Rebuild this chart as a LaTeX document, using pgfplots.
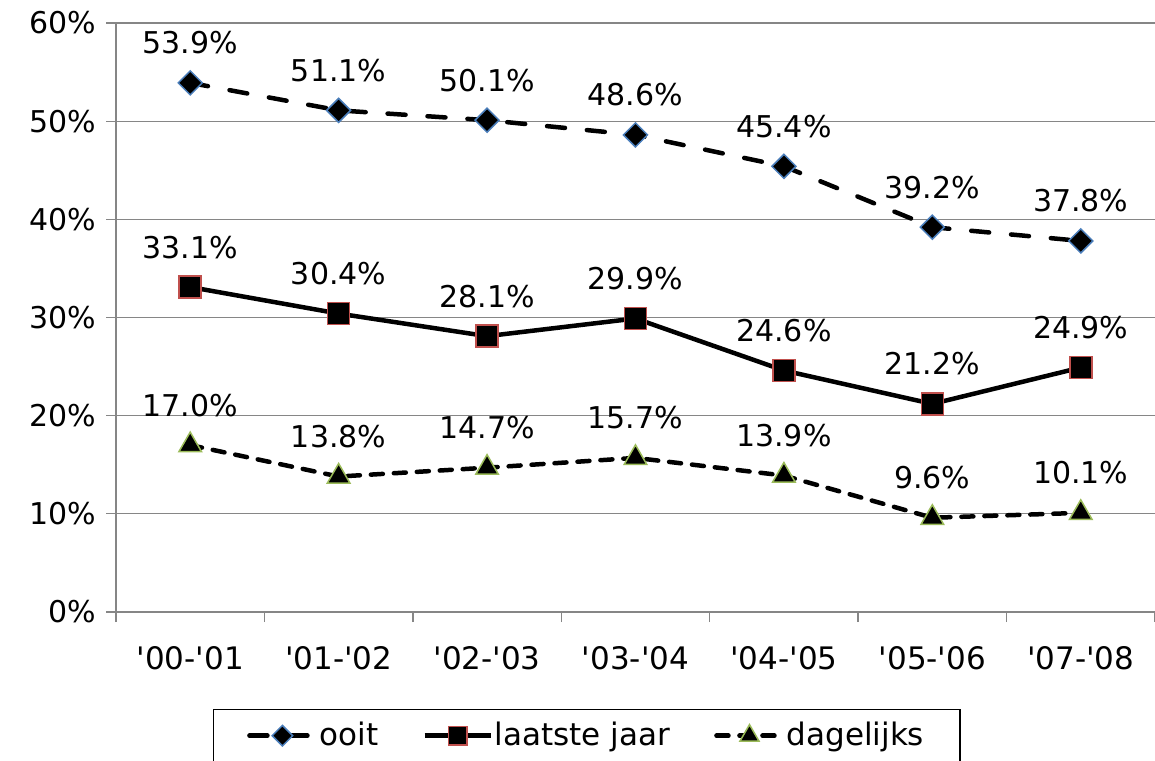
\documentclass[border=0pt]{standalone}
\usepackage{pgfplots}
\pgfplotsset{compat=1.18}
\usepackage{fontspec}
\setmainfont{DejaVu Sans}
\definecolor{gridgray}{HTML}{868686}
\definecolor{mblue}{HTML}{4A7EBB}
\definecolor{mred}{HTML}{C0504D}
\definecolor{mgreen}{HTML}{9BBB59}
\begin{document}
\fontsize{30}{36}\selectfont
\begin{tikzpicture}[font=\fontsize{30}{36}\selectfont]
\begin{axis}[
  at={(116pt,148pt)}, anchor=south west,
  scale only axis, width=1039pt, height=589pt,
  xmin=-0.5, xmax=6.5, ymin=0, ymax=60,
  axis x line*=bottom, axis y line*=left,
  axis line style={gridgray, line width=1.3pt},
  ytick={0,10,...,60},
  yticklabel={\pgfmathprintnumber{\tick}\%},
  xtick={-0.5,0.5,...,6.5},
  xticklabel={\relax},
  extra x ticks={0,1,2,3,4,5,6},
  extra x tick labels={{\textquotesingle00-\textquotesingle01},{\textquotesingle01-\textquotesingle02},{\textquotesingle02-\textquotesingle03},{\textquotesingle03-\textquotesingle04},{\textquotesingle04-\textquotesingle05},{\textquotesingle05-\textquotesingle06},{\textquotesingle07-\textquotesingle08}},
  extra x tick style={major tick length=0pt, tick label style={font=\fontsize{31}{37}\selectfont, yshift=-24pt}},
  ymajorgrids,
  major grid style={gridgray, line width=1.3pt},
  tick align=outside,
  major tick length=10pt,
  tick style={gridgray, line width=1.3pt},
  /pgf/number format/assume math mode=true,
  nodes near coords={\pgfmathprintnumber[fixed,zerofill,precision=1,assume math mode=true]{\pgfplotspointmeta}\%},
  point meta=y,
  every node near coord/.append style={anchor=base, yshift=29pt, inner sep=0pt, text=black},
  legend columns=3,
  legend style={at={(0.453,-0.1647)}, anchor=north, draw=black, line width=1.3pt,
    font=\fontsize{31}{37}\selectfont, inner xsep=34pt, inner ysep=10pt,
    /tikz/every even column/.append style={column sep=42pt}},
  legend image code/.code={\draw[#1, mark repeat=2, mark phase=2, every mark/.append style={scale=0.85}] plot coordinates {(0pt,0pt) (33pt,0pt) (66pt,0pt)};},
]
\addplot[black, line width=4.5pt, dash pattern=on 18pt off 22pt, line cap=round,
  mark=square*, mark size=8.5pt, mark options={rotate=45, solid, fill=black, draw=mblue, line width=1.5pt}]
  coordinates {(0,53.9) (1,51.1) (2,50.1) (3,48.6) (4,45.4) (5,39.2) (6,37.8)};
\addlegendentry{ooit}
\addplot[black, line width=4.5pt, solid,
  mark=square*, mark size=11pt, mark options={solid, fill=black, draw=mred, line width=1.5pt}]
  coordinates {(0,33.1) (1,30.4) (2,28.1) (3,29.9) (4,24.6) (5,21.2) (6,24.9)};
\addlegendentry{laatste jaar}
\addplot[black, line width=4.5pt, dash pattern=on 12pt off 11pt, line cap=round,
  mark=triangle*, mark size=13pt, mark options={solid, fill=black, draw=mgreen, line width=1.5pt}]
  coordinates {(0,17.0) (1,13.8) (2,14.7) (3,15.7) (4,13.9) (5,9.6) (6,10.1)};
\addlegendentry{dagelijks}
\end{axis}
\pgfresetboundingbox
\useasboundingbox (0,0) rectangle (1155pt,760pt);
\end{tikzpicture}
\end{document}
